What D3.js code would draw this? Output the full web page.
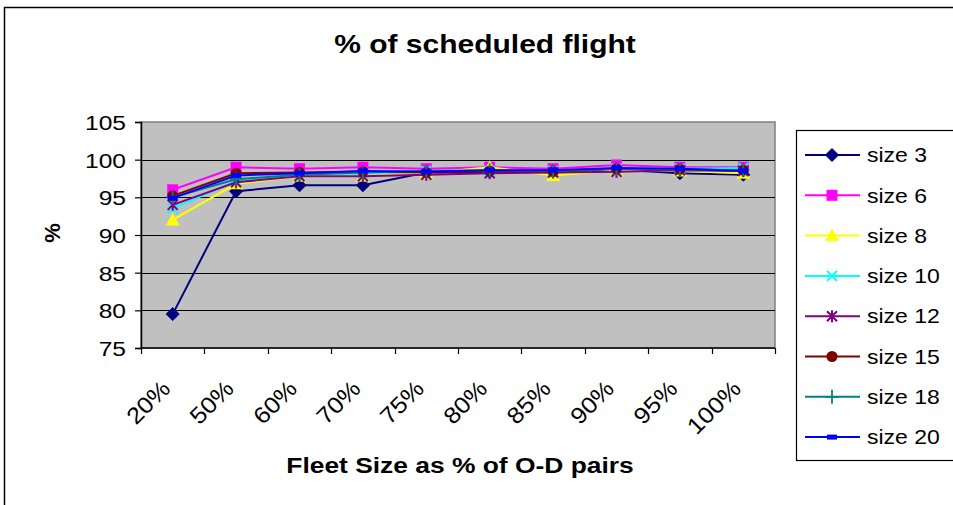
<!DOCTYPE html>
<html>
<head>
<meta charset="utf-8">
<script src="https://cdn.jsdelivr.net/npm/d3@7"></script>
<style>
  html, body { margin: 0; padding: 0; background: #fff; }
  svg { display: block; font-family: "Liberation Sans", Arial, sans-serif; }
</style>
</head>
<body>
<svg id="chart" width="953" height="505"></svg>
<script>
// Fleet size categories along the x axis
const categories = ["20%", "50%", "60%", "70%", "75%", "80%", "85%", "90%", "95%", "100%"];
const seriesNames = ["size 3", "size 6", "size 8", "size 10", "size 12", "size 15", "size 18", "size 20"];

// % of scheduled flights served, one array per size
const size3  = [79.5, 95.8, 96.6, 96.6, 98.3, 98.4, 98.5, 98.7, 98.2, 98.0];
const size6  = [96.0, 99.0, 98.8, 99.0, 98.8, 99.0, 98.8, 99.3, 99.0, 99.0];
const size8  = [92.0, 96.8, 97.8, 97.8, 98.2, 99.0, 97.9, 98.6, 98.5, 98.2];
const size10 = [93.5, 97.2, 98.0, 98.2, 98.5, 98.5, 98.5, 98.8, 98.8, 98.9];
const size12 = [94.0, 97.0, 97.8, 97.8, 98.0, 98.2, 98.3, 98.4, 98.6, 98.5];
const size15 = [95.2, 98.2, 98.3, 98.4, 98.3, 98.5, 98.4, 98.8, 98.7, 98.6];
const size18 = [95.0, 97.4, 98.0, 98.3, 98.5, 98.6, 98.5, 98.8, 98.7, 98.6];
const size20 = [94.9, 97.9, 98.2, 98.5, 98.4, 98.6, 98.6, 98.9, 98.8, 98.5];

const yTicks = [75, 80, 85, 90, 95, 100, 105];

const colors = ["#000080", "#FF00FF", "#FFFF00", "#00FFFF", "#800080", "#800000", "#008080", "#0000FF"];
const markers = ["diamond", "square", "triangle", "x", "asterisk", "circle", "plus", "dash"];

const series = seriesNames.map((name, i) => ({
  name,
  values: [size3, size6, size8, size10, size12, size15, size18, size20][i],
  color: colors[i],
  marker: markers[i]
}));

const svg = d3.select("#chart");
const SX = 1.17; // horizontal text stretch

// outer chart frame
svg.append("rect")
  .attr("x", 4.5).attr("y", 7.5)
  .attr("width", 1200).attr("height", 1200)
  .attr("fill", "#fff").attr("stroke", "#000").attr("stroke-width", 1.5);

const plot = { left: 141, top: 122, right: 775, bottom: 348 };

const x = d3.scaleBand().domain(categories).range([plot.left, plot.right]);
const y = d3.scaleLinear().domain([75, 105]).range([plot.bottom, plot.top]);

// plot area
svg.append("rect")
  .attr("x", plot.left).attr("y", plot.top)
  .attr("width", plot.right - plot.left).attr("height", plot.bottom - plot.top)
  .attr("fill", "#C0C0C0").attr("stroke", "#808080").attr("stroke-width", 1.5);

// horizontal gridlines
svg.append("g").selectAll("line")
  .data(yTicks.filter(t => t > 75 && t < 105))
  .join("line")
  .attr("x1", plot.left).attr("x2", plot.right)
  .attr("y1", d => Math.round(y(d)) + 0.5).attr("y2", d => Math.round(y(d)) + 0.5)
  .attr("stroke", "#000").attr("stroke-width", 1.2);

// y axis
const yAxis = svg.append("g")
  .attr("transform", `translate(${plot.left},0)`)
  .call(d3.axisLeft(y).tickValues(yTicks).tickSize(6).tickFormat(d3.format("d")));
yAxis.select(".domain").attr("stroke", "#000").attr("stroke-width", 1.5);
yAxis.selectAll(".tick line").attr("stroke", "#000").attr("stroke-width", 1.2);
yAxis.selectAll(".tick text").remove();
yAxis.selectAll(".tick").append("text")
  .attr("transform", `translate(-15,0) scale(${SX},1)`)
  .attr("dy", "0.36em")
  .attr("text-anchor", "end")
  .attr("fill", "#000")
  .attr("font-size", 21)
  .attr("font-family", "Liberation Sans, Arial, sans-serif")
  .text(d => d);

// x axis with ticks on category boundaries
const xAxis = svg.append("g")
  .attr("transform", `translate(0,${plot.bottom})`);
xAxis.append("line")
  .attr("x1", plot.left).attr("x2", plot.right)
  .attr("y1", 0).attr("y2", 0)
  .attr("stroke", "#000").attr("stroke-width", 1.5);
const bounds = categories.map(c => x(c)).concat([x.range()[1]]);
xAxis.selectAll("line.tk")
  .data(bounds)
  .join("line")
  .attr("class", "tk")
  .attr("x1", d => Math.round(d) + 0.5).attr("x2", d => Math.round(d) + 0.5)
  .attr("y1", 0).attr("y2", 6)
  .attr("stroke", "#000").attr("stroke-width", 1.2);
xAxis.selectAll("text")
  .data(categories)
  .join("text")
  .attr("transform", d => `translate(${x(d) + x.bandwidth() / 2 - 1},${390 - plot.bottom}) rotate(-45) scale(1.1,1)`)
  .attr("text-anchor", "end")
  .attr("font-size", 23)
  .attr("fill", "#000")
  .text(d => d);

// marker shapes
function drawMarker(g, type, color) {
  switch (type) {
    case "diamond":
      g.append("path").attr("d", "M0,-6.5L6.5,0L0,6.5L-6.5,0Z").attr("fill", color).attr("stroke", color); break;
    case "square":
      g.append("rect").attr("x", -5.5).attr("y", -5.5).attr("width", 11).attr("height", 11).attr("fill", color); break;
    case "triangle":
      g.append("path").attr("d", "M0,-7L7,5.5L-7,5.5Z").attr("fill", color); break;
    case "x":
      g.append("path").attr("d", "M-5,-5L5,5M-5,5L5,-5").attr("stroke", color).attr("stroke-width", 2).attr("fill", "none"); break;
    case "asterisk":
      g.append("path").attr("d", "M-5,-5L5,5M-5,5L5,-5M0,-6L0,6").attr("stroke", color).attr("stroke-width", 2).attr("fill", "none"); break;
    case "circle":
      g.append("circle").attr("r", 5.5).attr("fill", color); break;
    case "plus":
      g.append("path").attr("d", "M-6,0L6,0M0,-7L0,7").attr("stroke", color).attr("stroke-width", 1.8).attr("fill", "none"); break;
    case "dash":
      g.append("rect").attr("x", -5).attr("y", -2.5).attr("width", 10).attr("height", 5).attr("fill", color); break;
  }
}

const line = d3.line()
  .x((d, i) => x(categories[i]) + x.bandwidth() / 2)
  .y(d => y(d));

const seriesG = svg.append("g");
series.forEach(s => {
  const g = seriesG.append("g");
  g.append("path")
    .datum(s.values)
    .attr("d", line)
    .attr("fill", "none")
    .attr("stroke", s.color)
    .attr("stroke-width", 2);
  s.values.forEach((v, i) => {
    const m = g.append("g")
      .attr("transform", `translate(${x(categories[i]) + x.bandwidth() / 2},${y(v)})`);
    drawMarker(m, s.marker, s.color);
  });
});

// titles
svg.append("text")
  .attr("transform", `translate(485,53) scale(${SX + 0.03},1)`)
  .attr("text-anchor", "middle")
  .attr("font-size", 25).attr("font-weight", "bold")
  .text("% of scheduled flight");

svg.append("text")
  .attr("transform", `translate(460,473) scale(${SX + 0.03},1)`)
  .attr("text-anchor", "middle")
  .attr("font-size", 22).attr("font-weight", "bold")
  .text("Fleet Size as % of O-D pairs");

svg.append("text")
  .attr("transform", "translate(60,233) rotate(-90)")
  .attr("text-anchor", "middle")
  .attr("font-size", 22).attr("font-weight", "bold")
  .text("%");

// legend
const legend = svg.append("g");
legend.append("rect")
  .attr("x", 796.5).attr("y", 130.5)
  .attr("width", 160).attr("height", 330)
  .attr("fill", "#fff").attr("stroke", "#000").attr("stroke-width", 1.2);
series.forEach((s, i) => {
  const ly = 155 + i * 40.3;
  const g = legend.append("g");
  g.append("line")
    .attr("x1", 805).attr("x2", 860)
    .attr("y1", ly).attr("y2", ly)
    .attr("stroke", s.color).attr("stroke-width", 2);
  const m = g.append("g").attr("transform", `translate(832,${ly})`);
  drawMarker(m, s.marker, s.color);
  g.append("text")
    .attr("transform", `translate(867,${ly}) scale(${SX - 0.02},1)`)
    .attr("dy", "0.36em")
    .attr("font-size", 20)
    .text(s.name);
});
</script>
</body>
</html>
